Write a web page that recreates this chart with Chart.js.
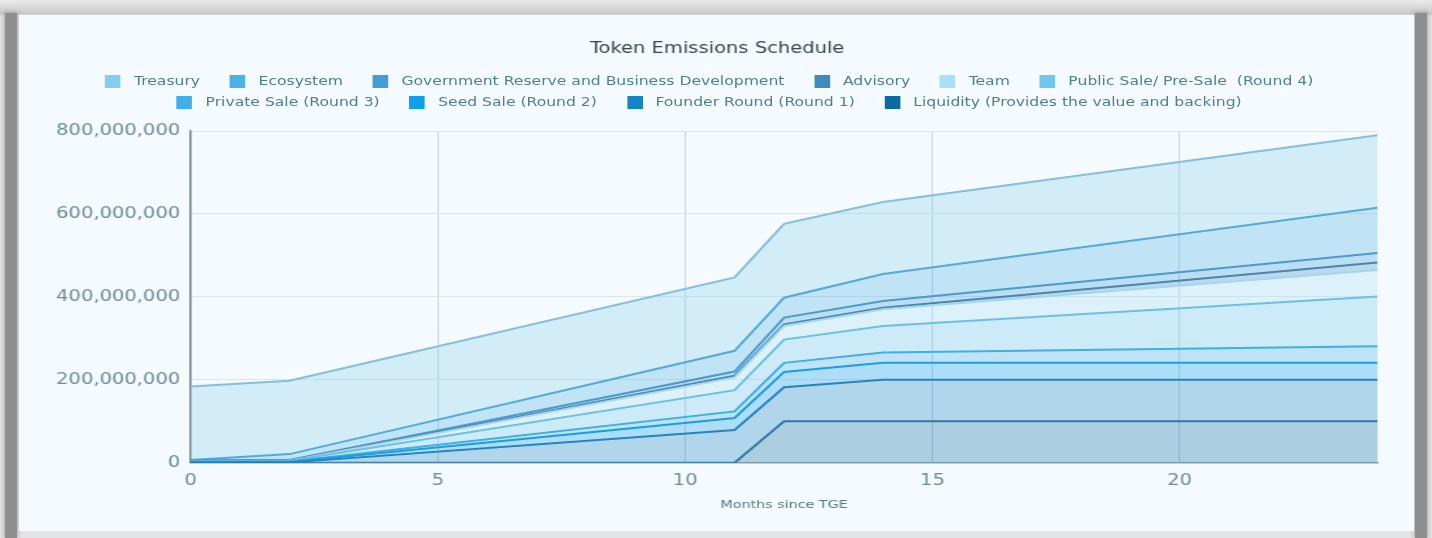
<!DOCTYPE html>
<html lang="en">
<head>
<meta charset="utf-8">
<title>Token Emissions Schedule</title>
<script src="https://cdn.jsdelivr.net/npm/chart.js@4.4.1/dist/chart.umd.min.js"></script>
<style>
  html, body { margin: 0; padding: 0; }
  body {
    width: 1432px; height: 538px; position: relative; overflow: hidden;
    background: linear-gradient(#ebebeb 0, #c9c9c9 14px, #e4e4e4 16px);
    font-family: "DejaVu Sans", Verdana, sans-serif;
  }
  .bar { position: absolute; top: 13px; bottom: 0; width: 12px; background: #8e8e8e; box-shadow: 0 0 4px 1px rgba(120,120,120,0.5); }
  .bar.left { left: 5px; }
  .bar.right { left: 1415px; }
  .panel { position: absolute; left: 19px; top: 15px; width: 1395px; height: 516px; background: #f4fafd; overflow: hidden; }
  /* the reference is stretched sideways, so the chart is drawn narrow and scaled */
  .stage { position: absolute; left: 0; top: 0; width: 1073px; height: 516px; transform: scaleX(1.3); transform-origin: 0 0; }
  #legend {
    position: absolute; top: 56px; left: 26px; width: 1010px;
    display: flex; flex-wrap: wrap; justify-content: center; column-gap: 23px;
    font-size: 12px; line-height: 21px; color: #4d7f98;
  }
  .item { display: flex; align-items: center; height: 21px; white-space: pre; }
  .swatch { width: 12px; height: 13px; margin-right: 10px; }
</style>
</head>
<body>
<div class="bar left"></div>
<div class="bar right"></div>
<div class="panel">
  <div class="stage">
    <canvas id="emissions"></canvas>
    <div id="legend"></div>
  </div>
</div>
<script>
// Months since TGE where the schedule bends
const months = [0, 2, 11, 12, 14, 24];

// Tokens unlocked per allocation (stacked)
const liquidity    = [0, 0, 0, 100e6, 100e6, 100e6];
const founderRound = [1e6, 1e6, 79e6, 82e6, 100e6, 100e6];
const seedSale     = [1e6, 1e6, 29e6, 37e6, 41e6, 41e6];
const privateSale  = [1e6, 1e6, 16e6, 22e6, 25e6, 40e6];
const publicSale   = [1e6, 2e6, 51e6, 56e6, 64e6, 120e6];
const team         = [0, 0, 31e6, 33e6, 40e6, 64e6];
const advisory     = [1e6, 1e6, 4e6, 4e6, 4e6, 18e6];
const govReserve   = [1e6, 1e6, 10e6, 16e6, 16e6, 23e6];
const ecosystem    = [1e6, 14e6, 50e6, 48e6, 65e6, 109e6];
const treasury     = [177e6, 177e6, 177e6, 178e6, 174e6, 175e6];

// Bottom of the stack first
const labels = [
  'Liquidity (Provides the value and backing)',
  'Founder Round (Round 1)',
  'Seed Sale (Round 2)',
  'Private Sale (Round 3)',
  'Public Sale/ Pre-Sale  (Round 4)',
  'Team',
  'Advisory',
  'Government Reserve and Business Development',
  'Ecosystem',
  'Treasury'
];
const series = [liquidity, founderRound, seedSale, privateSale, publicSale, team, advisory, govReserve, ecosystem, treasury];

const xTicks = [0, 5, 10, 15, 20];
const yTicks = [0, 200e6, 400e6, 600e6, 800e6];

const palette = ['#0b6aa2', '#1684c8', '#0ea0ea', '#42aeea', '#6fc6ee', '#aadff5', '#3f8bc0', '#3f9fd9', '#4db0e8', '#85cdee'];
const lineColors = ['#2f7aa3', '#2584c0', '#1c9ddf', '#3eaee6', '#6cbfe4', '#a4d6ee', '#4886b0', '#4a9bcc', '#55a9d8', '#86bedd'];

function rgba(hex, a) {
    const n = parseInt(hex.slice(1), 16);
    return `rgba(${(n >> 16) & 255}, ${(n >> 8) & 255}, ${n & 255}, ${a})`;
}

const datasets = series.map((values, i) => ({
    label: labels[i],
    data: months.map((m, j) => ({ x: m, y: values[j] })),
    borderColor: lineColors[i],
    backgroundColor: rgba(palette[i], 0.3),
    fill: i === 0 ? 'origin' : '-1',
    borderWidth: 2,
    pointRadius: 0,
    tension: 0
}));

Chart.defaults.font.family = '"DejaVu Sans", Verdana, sans-serif';

const chart = new Chart(document.getElementById('emissions'), {
    type: 'line',
    data: { datasets },
    options: {
        responsive: true, maintainAspectRatio: false,
        animation: false,
        layout: { padding: { left: 29, right: 28, top: 0, bottom: 15 } },
        plugins: {
            legend: { display: false },
            tooltip: { enabled: false },
            title: {
                display: true, text: 'Token Emissions Schedule', color: '#3a474d',
                font: { size: 15, weight: 'normal' },
                padding: { top: 25, bottom: 73 }
            }
        },
        scales: {
            x: {
                type: 'linear', min: 0, max: 24,
                afterBuildTicks: s => { s.ticks = xTicks.map(v => ({ value: v })); },
                grid: { color: '#c8d5db', drawTicks: false },
                border: { color: '#8da3ad', width: 1.5 },
                ticks: { color: '#6f8c96', font: { size: 15 }, padding: 9 },
                title: { display: true, text: 'Months since TGE', color: '#4f7b8c', font: { size: 11 }, padding: { top: 0, bottom: 4 } }
            },
            y: {
                stacked: true, min: 0, max: 800e6,
                afterBuildTicks: s => { s.ticks = yTicks.map(v => ({ value: v })); },
                afterFit: s => { s.width = 103; },
                grid: { color: '#dbe4e8', drawTicks: false },
                border: { color: '#76878e', width: 1.5 },
                ticks: { color: '#6f8c96', font: { size: 15 }, padding: 8, callback: v => v.toLocaleString('en-US') }
            }
        }
    }
});

// HTML legend, top of the stack first like the original
const legendBox = document.getElementById('legend');
datasets.map((ds, i) => i).reverse().forEach(i => {
    const item = document.createElement('div');
    item.className = 'item';
    const sw = document.createElement('span');
    sw.className = 'swatch';
    sw.style.background = palette[i];
    const txt = document.createElement('span');
    txt.textContent = labels[i];
    item.appendChild(sw);
    item.appendChild(txt);
    legendBox.appendChild(item);
});
</script>
</body>
</html>
